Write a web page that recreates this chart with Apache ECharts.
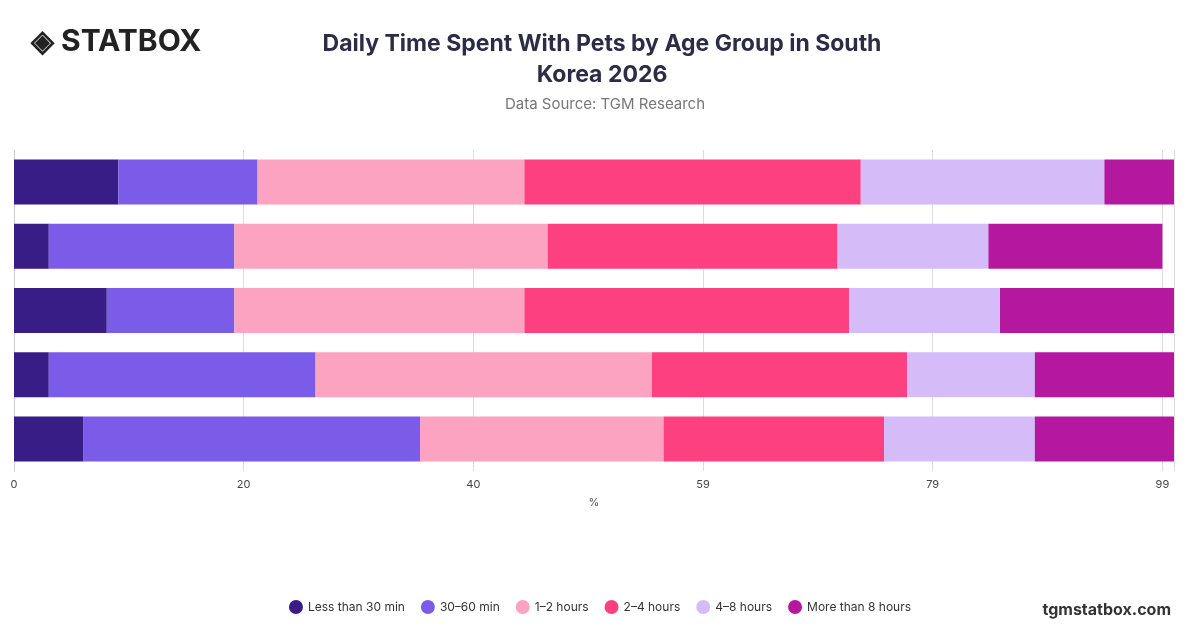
<!DOCTYPE html>
<html><head><meta charset="utf-8">
<script src="https://cdn.jsdelivr.net/npm/echarts@6/dist/echarts.min.js"></script>
<style>html,body{margin:0;padding:0;background:#fff}#c{width:1200px;height:628px}</style>
</head><body><div id="c"></div>
<script>
const categories = ['18–24', '25–34', '35–44', '45–54', '55+'];
const seriesNames = ['Less than 30 min', '30–60 min', '1–2 hours', '2–4 hours', '4–8 hours', 'More than 8 hours'];
const lessThan30 = [9, 3, 8, 3, 6];
const min30to60 = [12, 16, 11, 23, 29];
const h1to2 = [23, 27, 25, 29, 21];
const h2to4 = [29, 25, 28, 22, 19];
const h4to8 = [21, 13, 13, 11, 13];
const moreThan8 = [6, 15, 15, 12, 12];
const colors = ['#371d85', '#7b5ce9', '#fba3c1', '#fd4080', '#d5bcf9', '#b3189f'];
const values = [lessThan30, min30to60, h1to2, h2to4, h4to8, moreThan8];

const chart = echarts.init(document.getElementById('c'));
chart.setOption({
  animation: false,
  title: [
    {text: 'Daily Time Spent With Pets by Age Group in South\nKorea 2026', left: 597, top: 24, textAlign: 'center',
     textStyle: {fontFamily: 'Inter', fontSize: 23, fontWeight: 'bold', color: '#2d2b45', lineHeight: 31}},
    {text: 'Data Source: TGM Research', left: 600, top: 92, textAlign: 'center',
     textStyle: {fontFamily: 'Inter', fontSize: 15, fontWeight: 'normal', color: '#777'}},
    {text: '◈ STATBOX', left: 26, top: 22, textStyle: {fontFamily: 'Inter', fontSize: 30, fontWeight: 'bold', color: '#222'}},
    {text: 'tgmstatbox.com', right: 24, top: 597, textStyle: {fontFamily: 'Inter', fontSize: 16, fontWeight: 'bold', color: '#333'}}
  ],
  legend: {bottom: 9, left: 'center', icon: 'circle', itemWidth: 14, itemHeight: 14, itemGap: 16,
    textStyle: {fontFamily: 'Inter', fontSize: 12, color: '#333'}, data: seriesNames},
  grid: {left: 14, right: 26, top: 150, bottom: 157, containLabel: false},
  xAxis: {type: 'value', min: 0, max: 100, interval: 19.8, name: '%', nameLocation: 'middle', nameGap: 26,
    nameTextStyle: {fontFamily: 'Inter', fontSize: 11, color: '#555'},
    axisLabel: {formatter: v => Math.round(v), fontFamily: 'Inter', fontSize: 11, color: '#444'},
    splitLine: {show: true, lineStyle: {color: '#ddd'}}, axisLine: {show: false}, axisTick: {show: false}},
  yAxis: {type: 'category', data: categories, inverse: true, axisLabel: {show: false}, axisTick: {show: false},
    axisLine: {show: true, lineStyle: {color: '#ccc'}}},
  series: seriesNames.map((n, i) => ({name: n, type: 'bar', stack: 'a', data: values[i], barWidth: 45,
    itemStyle: {color: colors[i]}}))
});
</script></body></html>
